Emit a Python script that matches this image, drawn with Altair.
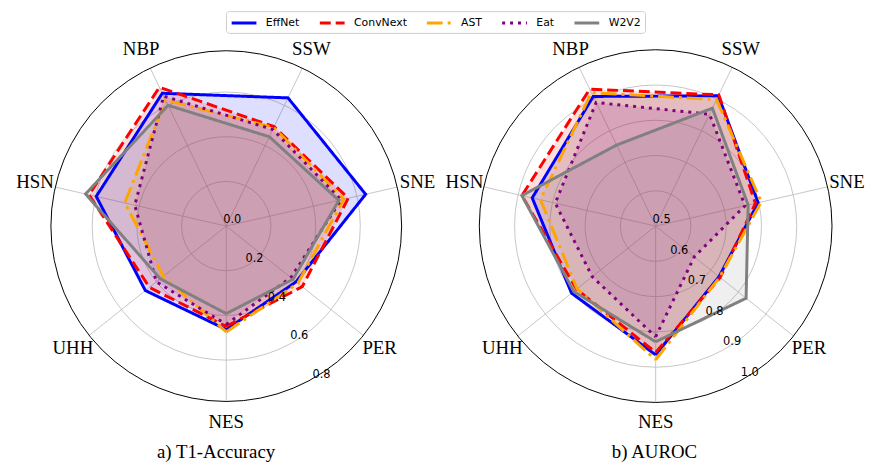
import math
import altair as alt
import pandas as pd

# ---------------- data ----------------
CATEGORIES = ["NES", "PER", "SNE", "SSW", "NBP", "HSN", "UHH"]   # counter-clockwise, starting at the bottom
MODELS = ["EffNet", "ConvNext", "AST", "Eat", "W2V2"]
COLORS = ["#0000ff", "#ff0000", "#ffa500", "#800080", "#808080"]
DASHES = [[1, 0], [11, 5], [16, 5, 3, 5], [3, 5], [1, 0]]

# a) T1-Accuracy  (order of CATEGORIES)
ACC_EFFNET   = [0.463, 0.400, 0.640, 0.637, 0.660, 0.597, 0.463]
ACC_CONVNEXT = [0.449, 0.435, 0.560, 0.494, 0.690, 0.630, 0.440]
ACC_AST      = [0.474, 0.410, 0.540, 0.490, 0.627, 0.466, 0.360]
ACC_EAT      = [0.440, 0.370, 0.527, 0.480, 0.646, 0.420, 0.400]
ACC_W2V2     = [0.392, 0.382, 0.517, 0.444, 0.600, 0.646, 0.378]

# b) AUROC
AUC_EFFNET   = [0.865, 0.730, 0.798, 0.910, 0.908, 0.859, 0.805]
AUC_CONVNEXT = [0.858, 0.734, 0.790, 0.913, 0.931, 0.889, 0.787]
AUC_AST      = [0.879, 0.732, 0.807, 0.898, 0.920, 0.835, 0.785]
AUC_EAT      = [0.814, 0.640, 0.760, 0.852, 0.889, 0.792, 0.730]
AUC_W2V2     = [0.828, 0.828, 0.769, 0.871, 0.755, 0.889, 0.797]

ACC_TICKS = [0.0, 0.2, 0.4, 0.6, 0.8]
AUC_TICKS = [0.5, 0.6, 0.7, 0.8, 0.9, 1.0]
TITLES = ["a) T1-Accuracy", "b) AUROC"]

# ---------------- layout ----------------
W, H = 860, 455
N = len(CATEGORIES)
SERIF = "Liberation Serif"
SANS = "DejaVu Sans"

XS = alt.Scale(domain=[0, W], range=[0, W], nice=False, zero=False)
YS = alt.Scale(domain=[H, 0], nice=False, zero=False)

LEGEND = dict(
    title=None, orient="none", legendX=220, legendY=0, direction="horizontal", columns=5,
    symbolType="M-2,0H2", symbolSize=156.25, symbolStrokeWidth=3, symbolOffset=6.25,
    labelFont=SANS, labelFontSize=11, labelColor="black", labelOffset=14,
    strokeColor="#cccccc", fillColor="white", padding=4, cornerRadius=3,
    columnPadding=13, rowPadding=0,
)


def X(f):
    return alt.X(f"{f}:Q", scale=XS, axis=None)


def Y(f):
    return alt.Y(f"{f}:Q", scale=YS, axis=None)


def series_frame(rows):
    recs = []
    for m, vals in zip(MODELS, rows):
        for i in range(N + 1):
            recs.append({"model": m, "idx": i, "cat": CATEGORIES[i % N], "value": vals[i % N]})
    return pd.DataFrame(recs)


def panel(rows, ticks, rmin, rmax, R, cx, cy):
    k = R / (rmax - rmin)          # pixels per data unit
    ang = f"(-PI/2 + datum.idx*2*PI/{N})"

    def px(rexpr):
        return f"{cx} + ({rexpr})*{k}*cos({ang})"

    def py(rexpr):
        return f"{cy} - ({rexpr})*{k}*sin({ang})"

    base = alt.Chart(series_frame(rows)).transform_calculate(
        gx=px(f"datum.value - {rmin}"), gy=py(f"datum.value - {rmin}")
    )

    ring_df = pd.DataFrame({"v": [t for t in ticks if rmin < t < rmax - 1e-9]})
    rings = alt.Chart(ring_df).transform_calculate(
        x0=f"{cx}", y0=f"{cy}", sz=f"pow(2*(datum.v - {rmin})*{k}, 2)"
    ).mark_point(shape="circle", filled=False, stroke="#b8b8b8", strokeWidth=0.8, opacity=1).encode(
        x=X("x0"), y=Y("y0"), size=alt.Size("sz:Q", scale=None, legend=None)
    )
    outer = alt.Chart(pd.DataFrame({"v": [rmax]})).transform_calculate(
        x0=f"{cx}", y0=f"{cy}", sz=f"pow(2*(datum.v - {rmin})*{k}, 2)"
    ).mark_point(shape="circle", filled=False, stroke="black", strokeWidth=1, opacity=1).encode(
        x=X("x0"), y=Y("y0"), size=alt.Size("sz:Q", scale=None, legend=None)
    )

    cat_df = pd.DataFrame({"cat": CATEGORIES, "idx": list(range(N))})
    spokes = alt.Chart(cat_df).transform_calculate(
        x0=f"{cx}", y0=f"{cy}", x1=px(f"{rmax - rmin}"), y1=py(f"{rmax - rmin}")
    ).mark_rule(color="#b8b8b8", strokeWidth=0.8).encode(
        x=X("x0"), y=Y("y0"), x2="x1:Q", y2="y1:Q"
    )

    fills = base.mark_line(strokeWidth=0, fillOpacity=0.13).encode(
        x=X("gx"), y=Y("gy"), order=alt.Order("idx:Q"),
        fill=alt.Fill("model:N", scale=alt.Scale(domain=MODELS, range=COLORS),
                      legend=alt.Legend(**LEGEND)),
        detail="model:N",
    )
    lines = base.mark_line(strokeWidth=3, strokeJoin="miter").encode(
        x=X("gx"), y=Y("gy"), order=alt.Order("idx:Q"),
        color=alt.Color("model:N", scale=alt.Scale(domain=MODELS, range=COLORS),
                        legend=alt.Legend(**LEGEND)),
        strokeDash=alt.StrokeDash("model:N", scale=alt.Scale(domain=MODELS, range=DASHES),
                                  legend=alt.Legend(**LEGEND)),
    )

    lab_r = 198 / k
    labels = alt.Chart(cat_df).transform_calculate(
        lx=px(f"{lab_r}"), ly=py(f"{lab_r}")
    ).mark_text(font=SERIF, fontSize=19, color="black", align="center", baseline="middle").encode(
        x=X("lx"), y=Y("ly"), text="cat:N"
    )

    phi = -60 * math.pi / 180
    tick_df = pd.DataFrame({"v": ticks})
    tick_labels = alt.Chart(tick_df).transform_calculate(
        tx=f"{cx} + (datum.v - {rmin})*{k}*{math.cos(phi)}",
        ty=f"{cy} - (datum.v - {rmin})*{k}*{math.sin(phi)}",
        lab="format(datum.v, '.1f')"
    ).mark_text(font=SANS, fontSize=11.5, color="black", align="center", baseline="middle",
                dx=6, dy=-6).encode(
        x=X("tx"), y=Y("ty"), text="lab:N"
    )

    return [rings, spokes, fills, lines, outer, tick_labels, labels]


left = panel([ACC_EFFNET, ACC_CONVNEXT, ACC_AST, ACC_EAT, ACC_W2V2], ACC_TICKS,
             0.0, 0.785, 177, 220.3, 217)
right = panel([AUC_EFFNET, AUC_CONVNEXT, AUC_AST, AUC_EAT, AUC_W2V2], AUC_TICKS,
              0.5, 1.0, 178, 653.7, 217)

titles = [
    alt.Chart(pd.DataFrame({"t": [TITLES[0]]})).mark_text(
        font=SERIF, fontSize=19, color="black", align="center", baseline="alphabetic"
    ).encode(x=alt.value(210), y=alt.value(451), text="t:N"),
    alt.Chart(pd.DataFrame({"t": [TITLES[1]]})).mark_text(
        font=SERIF, fontSize=19, color="black", align="center", baseline="alphabetic"
    ).encode(x=alt.value(652.5), y=alt.value(451), text="t:N"),
]

chart = alt.layer(*left, *right, *titles).properties(
    width=W, height=H, padding=0
).configure_view(stroke=None)

chart.save("out.html", embed_options={"renderer": "svg", "actions": False})
